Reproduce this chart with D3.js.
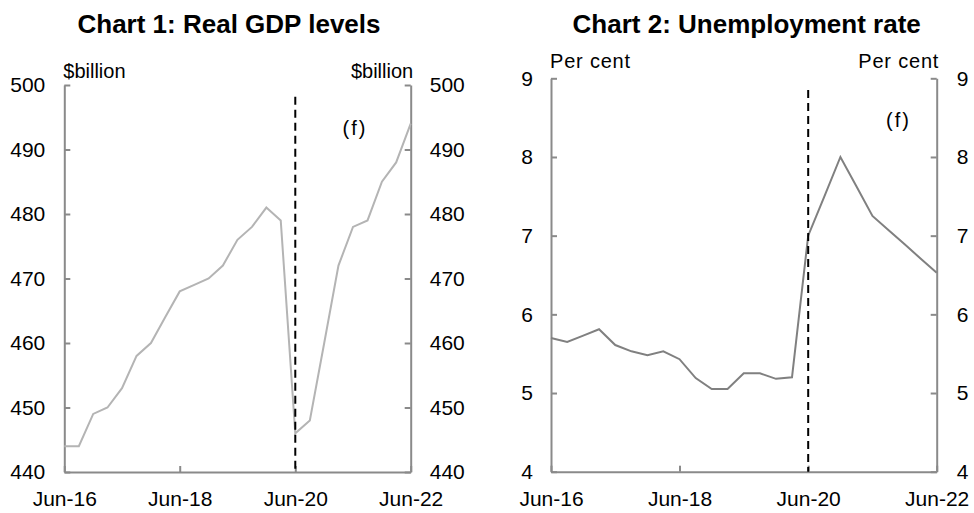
<!DOCTYPE html>
<html>
<head>
<meta charset="utf-8">
<script src="https://cdn.jsdelivr.net/npm/d3@7"></script>
<style>
  html, body { margin: 0; padding: 0; background: #fff; }
  svg { display: block; }
  text { font-family: "Liberation Sans", Arial, sans-serif; fill: #000; }
</style>
</head>
<body>
<svg id="chart" width="974" height="513"></svg>
<script>
// ---- Data ----
const quarters = [
  "2016-06","2016-09","2016-12","2017-03","2017-06","2017-09","2017-12","2018-03",
  "2018-06","2018-09","2018-12","2019-03","2019-06","2019-09","2019-12","2020-03",
  "2020-06","2020-09","2020-12","2021-03","2021-06","2021-09","2021-12","2022-03","2022-06"
];
const gdpValues = [
  444, 444, 449, 450, 453, 458, 460, 464, 468, 469, 470, 472, 476,
  478, 481, 479, 446, 448, 460, 472, 478, 479, 485, 488, 494
];
const unempValues = [
  5.70, 5.65, 5.73, 5.81, 5.61, 5.53, 5.48, 5.53, 5.43, 5.19, 5.05, 5.05, 5.25,
  5.25, 5.18, 5.20, 7.00, 7.50, 8.00, 7.63, 7.25, 7.07, 6.89, 6.71, 6.53
];
const xTickDates = ["2016-06", "2018-06", "2020-06", "2022-06"];
const gdpTicks = [440, 450, 460, 470, 480, 490, 500];
const unempTicks = [4, 5, 6, 7, 8, 9];
const forecastStart = "2020-06";
const titles = ["Chart 1: Real GDP levels", "Chart 2: Unemployment rate"];
const unitLabels = ["$billion", "Per cent"];

const parse = d3.timeParse("%Y-%m");
const fmt = d3.timeFormat("%b-%y");
const svg = d3.select("#chart");

function panel(cfg) {
  const g = svg.append("g");
  const x = d3.scaleTime()
    .domain([parse(quarters[0]), parse(quarters[quarters.length - 1])])
    .range([cfg.left, cfg.right]);
  const y = d3.scaleLinear().domain(cfg.domain).range([cfg.bottom, cfg.top]);
  const yFmt = d3.format("d");

  const axisColor = "#8a8a8a";
  const styleAxis = sel => {
    sel.select(".domain").attr("stroke", axisColor).attr("stroke-width", 2);
    sel.selectAll(".tick line").attr("stroke", axisColor).attr("stroke-width", 2);
    sel.selectAll("text").attr("font-size", 21).attr("fill", "#000")
      .attr("font-family", '"Liberation Sans", Arial, sans-serif');
  };

  // left axis
  g.append("g").attr("transform", `translate(${cfg.left},0)`)
    .call(d3.axisLeft(y).tickValues(cfg.ticks).tickFormat(yFmt)
      .tickSizeInner(-6).tickSizeOuter(0).tickPadding(cfg.padL))
    .call(styleAxis);
  // right axis
  g.append("g").attr("transform", `translate(${cfg.right},0)`)
    .call(d3.axisRight(y).tickValues(cfg.ticks).tickFormat(yFmt)
      .tickSizeInner(-6).tickSizeOuter(0).tickPadding(cfg.padR))
    .call(styleAxis);
  // bottom axis
  g.append("g").attr("transform", `translate(0,${cfg.bottom})`)
    .call(d3.axisBottom(x).tickValues(xTickDates.map(parse)).tickFormat(fmt)
      .tickSizeInner(-6).tickSizeOuter(0).tickPadding(19))
    .call(styleAxis);

  // series line
  const line = d3.line()
    .x((d, i) => x(parse(quarters[i])))
    .y(d => y(d));
  g.append("path").datum(cfg.values)
    .attr("fill", "none")
    .attr("stroke", cfg.color)
    .attr("stroke-width", 2)
    .attr("stroke-linejoin", "miter")
    .attr("d", line);

  // forecast divider
  const fx = x(parse(forecastStart));
  g.append("line")
    .attr("x1", fx).attr("x2", fx)
    .attr("y1", cfg.dashTop).attr("y2", cfg.bottom)
    .attr("stroke", "#000").attr("stroke-width", 2)
    .attr("stroke-dasharray", "8,5");

  // title
  g.append("text").attr("x", cfg.titleX).attr("y", 33)
    .attr("text-anchor", "middle").attr("font-size", 26).attr("font-weight", "bold")
    .text(cfg.title);

  // unit labels
  g.append("text").attr("x", cfg.left - 1).attr("y", cfg.unitY)
    .attr("font-size", 20).attr("letter-spacing", cfg.unitLS)
    .text(cfg.unit);
  g.append("text").attr("x", cfg.right + 2.5).attr("y", cfg.unitY)
    .attr("text-anchor", "end").attr("font-size", 20).attr("letter-spacing", cfg.unitLS)
    .text(cfg.unit);

  // (f)
  g.append("text").attr("x", cfg.fX).attr("y", cfg.fY)
    .attr("text-anchor", "middle").attr("font-size", 20).attr("letter-spacing", 2)
    .text("(f)");
}

panel({
  left: 64.3, right: 410.7, top: 85, bottom: 472,
  domain: [440, 500], ticks: gdpTicks, values: gdpValues,
  color: "#b4b4b4", padL: 19, padR: 19, dashTop: 96.7,
  title: titles[0], titleX: 229, unit: unitLabels[0], unitY: 78, unitLS: 0,
  fX: 355, fY: 135
});

panel({
  left: 551, right: 936.7, top: 78.3, bottom: 471.7,
  domain: [4, 9], ticks: unempTicks, values: unempValues,
  color: "#808080", padL: 18, padR: 20, dashTop: 90,
  title: titles[1], titleX: 746.7, unit: unitLabels[1], unitY: 68.3, unitLS: 0.8,
  fX: 898.5, fY: 127
});
</script>
</body>
</html>
